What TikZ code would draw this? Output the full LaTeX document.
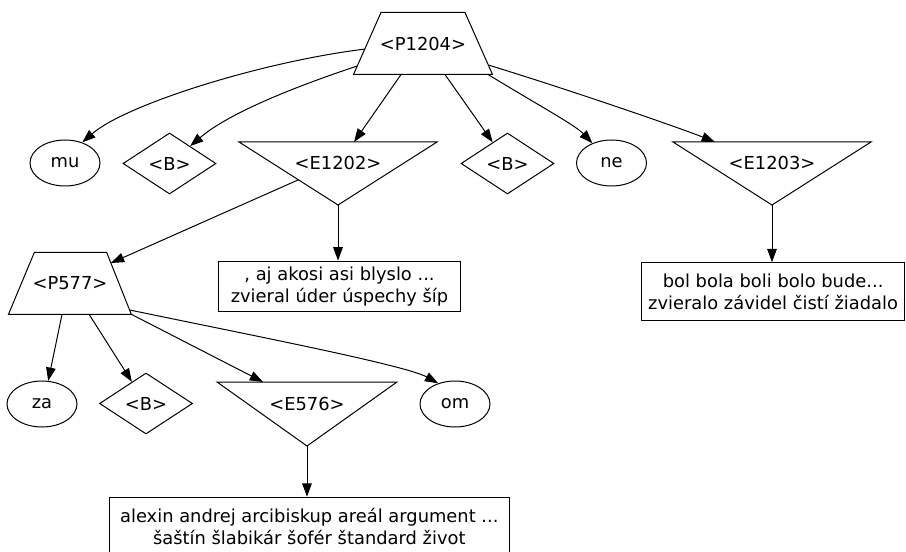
\documentclass[tikz,border=0pt]{standalone}
\usepackage{fontspec}
\setmainfont{DejaVu Sans}
\usetikzlibrary{shapes.geometric,arrows.meta,calc}
\begin{document}
\begin{tikzpicture}[x=0.75pt,y=-0.75pt,
  every node/.style={font=\fontsize{13.4pt}{16.4pt}\selectfont, inner sep=0pt},
  outline/.style={draw=black, line width=0.75pt, line join=miter},
  term/.style={outline, ellipse, minimum width=52.5pt, minimum height=34.5pt},
  gapnode/.style={outline, diamond, minimum width=69.75pt, minimum height=45.75pt},
  leaf/.style={outline, rectangle, align=center},
  link/.style={line width=0.75pt, -{Triangle[length=10pt,width=7.2pt]}}
]
\useasboundingbox (0,0) rectangle (906,552);

% ---- phrase nodes (trapezia) ----
\coordinate (p1204tl) at (381,12.5);
\coordinate (p1204tr) at (465,12.5);
\coordinate (p1204br) at (492.5,74.5);
\coordinate (p1204bl) at (353.5,74.5);
\draw[outline] (p1204tl) -- (p1204tr) -- (p1204br) -- (p1204bl) -- cycle;
\node (p1204) at (423,43.5) {<P1204>};

\coordinate (p577tl) at (34.3,252.5);
\coordinate (p577tr) at (106.7,252.5);
\coordinate (p577br) at (131.3,314.3);
\coordinate (p577bl) at (8.5,314.3);
\draw[outline] (p577tl) -- (p577tr) -- (p577br) -- (p577bl) -- cycle;
\node (p577) at (70,283.5) {<P577>};

% ---- expansion nodes (inverted triangles) ----
\coordinate (e1202tl) at (239,142);
\coordinate (e1202tr) at (437,142);
\coordinate (e1202ap) at (338,205);
\draw[outline] (e1202tl) -- (e1202tr) -- (e1202ap) -- cycle;
\node (e1202) at (338,163) {<E1202>};

\coordinate (e1203tl) at (673,142);
\coordinate (e1203tr) at (871,142);
\coordinate (e1203ap) at (772,205);
\draw[outline] (e1203tl) -- (e1203tr) -- (e1203ap) -- cycle;
\node (e1203) at (772,163) {<E1203>};

\coordinate (e576tl) at (217,382);
\coordinate (e576tr) at (397,382);
\coordinate (e576ap) at (307,446);
\draw[outline] (e576tl) -- (e576tr) -- (e576ap) -- cycle;
\node (e576) at (307,404) {<E576>};

% ---- terminals and gaps ----
\node[term] (mu) at (65,163) {mu};
\node[gapnode] (b1) at (169.5,163.5) {<B>};
\node[gapnode] (b2) at (507.5,163.5) {<B>};
\node[term] (ne) at (611.5,163) {ne};
\node[term] (za) at (42,404) {za};
\node[gapnode] (b3) at (146,403.5) {<B>};
\node[term] (om) at (455,404) {om};

% ---- word lists ----
\node[leaf, minimum width=181.8pt, minimum height=38pt] (w1202) at (339.5,286.4)
  {, aj akosi asi blyslo ...\\zvieral úder úspechy šíp};
\node[leaf, minimum width=197.1pt, minimum height=43.5pt] (w1203) at (773.1,291.7)
  {bol bola boli bolo bude...\\zvieralo závidel čistí žiadalo};
\node[leaf, minimum width=300pt, minimum height=44pt] (w576) at (309.3,526.5)
  {alexin andrej arcibiskup areál argument ...\\šaštín šlabikár šofér štandard život};

% ---- connectors from <P1204> ----
\draw[link] ($(p1204bl)!0.41!(p1204tl)$) .. controls (260,62) and (125,105) .. (mu.50);
\draw[link] ($(p1204bl)!0.137!(p1204tl)$) .. controls (300,85) and (230,112) .. (b1.40);
\draw[link] ($(p1204bl)!0.342!(p1204br)$) -- ($(e1202tl)!0.581!(e1202tr)$);
\draw[link] ($(p1204bl)!0.658!(p1204br)$) -- (b2.125);
\draw[link] ($(p1204bl)!0.968!(p1204br)$) .. controls (538,105) and (575,125) .. (ne.134);
\draw[link] ($(p1204br)!0.153!(p1204tr)$) .. controls (570,90) and (680,128) .. ($(e1203tl)!0.212!(e1203tr)$);

% ---- connectors from the expansions ----
\draw[link] (e1203ap) -- (e1203ap |- w1203.north);
\draw[link] ($(e1202tl)!0.6!(e1202ap)$) -- ($(p577tr)!0.17!(p577br)$);
\draw[link] (e1202ap) -- (e1202ap |- w1202.north);
\draw[link] (e576ap) -- (e576ap |- w576.north);

% ---- connectors from <P577> ----
\draw[link] ($(p577bl)!0.436!(p577br)$) -- (za.75);
\draw[link] ($(p577bl)!0.656!(p577br)$) -- (b3.123);
\draw[link] (p577br) -- ($(e576tl)!0.256!(e576tr)$);
\draw[link] ($(p577br)!0.07!(p577tr)$) .. controls (250,335) and (405,365) .. (om.129);
\end{tikzpicture}
\end{document}
